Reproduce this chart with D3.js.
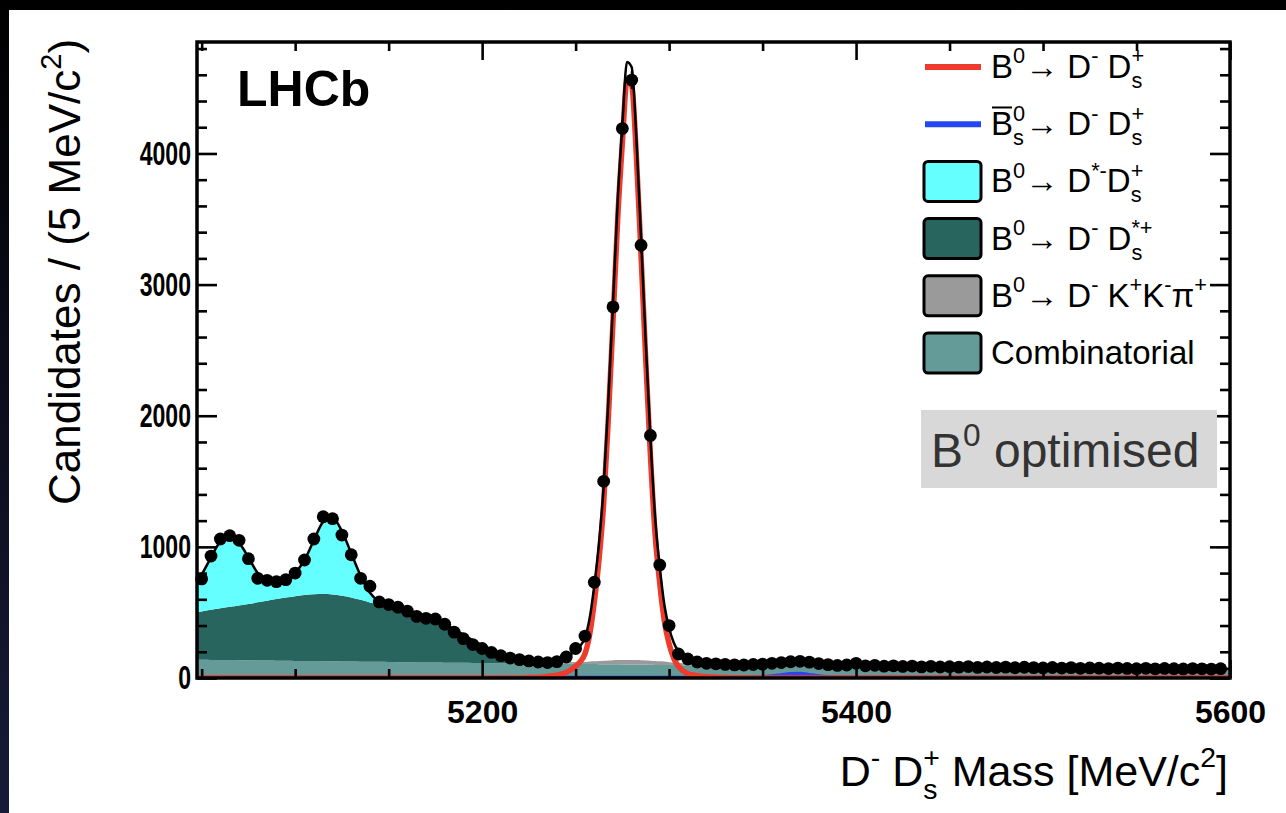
<!DOCTYPE html>
<html>
<head>
<meta charset="utf-8">
<script src="https://cdn.jsdelivr.net/npm/d3@7"></script>
<style>
  html, body { margin: 0; padding: 0; background: #000; }
  svg { display: block; }
  text { font-family: "Liberation Sans", Arial, Helvetica, sans-serif; }
</style>
</head>
<body>
<div id="chart"></div>
<script>
// ---------------- data ----------------
// fit components are sampled on one mass grid (MeV/c^2), finer around the B0 peak
const fitMass = [].concat(
  d3.range(5045, 5251, 5),      // 42 points
  d3.range(5252.5, 5311, 2.5),  // 24 points
  d3.range(5315, 5401, 5),      // 18 points
  d3.range(5410, 5601, 10)      // 20 points
);

const combFit = [
  140,139,138,137,137,136,135,134,133,132,131,130,130,129,128,127,126,125,124,124,123,
  122,121,120,119,119,118,117,116,116,115,114,113,113,112,111,110,110,109,108,108,107,
  107,106,106,106,105,105,104,104,104,103,103,102,102,102,101,101,100,100,100,99,99,99,98,98,
  98,97,97,96,96,95,95,94,94,93,93,92,92,91,91,90,90,89,
  88,87,86,85,84,83,82,81,80,79,78,77,76,75,74,73,72,71,70,70
];
const kkpiFit = [
  0,0,0,0,0,0,0,0,0,0,0,0,0,0,0,0,0,0,0,0,0,
  0,0,0,0,0,0,0,0,0,0,0,0,0,0,0,1,2,4,6,9,12,
  14,16,19,21,24,26,29,31,33,34,35,35,35,34,33,31,29,27,25,22,20,17,15,13,
  11,9,7,6,5,4,3,2,2,1,1,1,0,0,0,0,0,0,
  0,0,0,0,0,0,0,0,0,0,0,0,0,0,0,0,0,0,0,0
];
const dsstarFit = [
  360,369,382,395,406,417,430,443,457,471,483,494,502,509,512,510,502,489,472,452,434,
  418,401,382,363,343,322,293,256,214,173,136,103,75,54,39,26,16,8,4,2,1,
  0,0,0,0,0,0,0,0,0,0,0,0,0,0,0,0,0,0,0,0,0,0,0,0,
  0,0,0,0,0,0,0,0,0,0,0,0,0,0,0,0,0,0,
  0,0,0,0,0,0,0,0,0,0,0,0,0,0,0,0,0,0,0,0
];
const dstarFit = [
  200,282,400,508,532,477,355,223,155,132,136,176,268,412,550,583,492,336,184,74,23,
  8,3,1,0,0,0,0,0,0,0,0,0,0,0,0,0,0,0,0,0,0,
  0,0,0,0,0,0,0,0,0,0,0,0,0,0,0,0,0,0,0,0,0,0,0,0,
  0,0,0,0,0,0,0,0,0,0,0,0,0,0,0,0,0,0,
  0,0,0,0,0,0,0,0,0,0,0,0,0,0,0,0,0,0,0,0
];
const sigFit = [
  0,0,0,0,0,0,0,0,0,0,0,0,0,0,0,0,0,0,0,0,0,
  0,0,0,0,0,0,0,0,0,0,0,0,0,0,0,3,6,12,22,42,90,
  125,185,330,580,900,1330,1980,2720,3500,4080,4560,4520,3980,3220,2430,1700,1100,720,430,260,150,88,54,33,
  18,10,6,3,2,1,0,0,0,0,0,0,0,0,0,0,0,0,
  0,0,0,0,0,0,0,0,0,0,0,0,0,0,0,0,0,0,0,0
];
const bsFit = [
  0,0,0,0,0,0,0,0,0,0,0,0,0,0,0,0,0,0,0,0,0,
  0,0,0,0,0,0,0,0,0,0,0,0,0,0,0,0,0,0,0,0,0,
  0,0,0,0,0,0,0,0,0,0,0,0,0,0,0,0,0,0,0,0,0,0,0,0,
  0,0,0,0,0,1,2,5,11,20,29,30,22,12,5,2,1,0,
  0,0,0,0,0,0,0,0,0,0,0,0,0,0,0,0,0,0,0,0
];

// candidates per 5 MeV bin, bin centres 5050 ... 5595
const dataMass = d3.range(5050, 5600, 5);
const dataCounts = [
  756,930,1060,1085,1050,910,760,745,735,750,
  800,900,1060,1230,1215,1090,940,760,700,580,
  560,540,510,470,455,450,410,350,300,255,
  225,195,170,152,140,130,122,118,125,160,
  225,320,730,1500,2830,4190,4560,3300,1850,862,
  400,183,145,122,112,108,104,100,99,103,
  106,112,118,124,127,121,110,102,96,99,
  112,93,97,90,93,88,91,85,89,84,
  86,83,87,81,84,80,83,78,82,79,
  77,80,76,79,74,77,75,72,76,73,
  71,74,70,73,71,69,72,70,68,71
];

const xMajor = [5200, 5400, 5600];
const yMajor = [0, 1000, 2000, 3000, 4000];

// ---------------- layout ----------------
const W = 1286, H = 813;
const xL = 197, xR = 1230, yT = 42, yB = 678;

const x = d3.scaleLinear().domain([5047.5, 5600]).range([xL, xR]);
const y = d3.scaleLinear().domain([0, 4850]).range([yB, yT]);

const colors = {
  comb: "#649a97",
  kkpi: "#9a9a9a",
  dsstar: "#28655f",
  dstar: "#66ffff",
  sig: "#ee3b2d",
  bs: "#2447f0"
};

const svg = d3.select("#chart")
  .append("svg")
  .attr("width", W)
  .attr("height", H);

const defs = svg.append("defs");
const grad = defs.append("linearGradient")
  .attr("id", "bg").attr("x1", 0).attr("y1", 0).attr("x2", 0).attr("y2", 1);
grad.append("stop").attr("offset", "0%").attr("stop-color", "#000");
grad.append("stop").attr("offset", "100%").attr("stop-color", "#171b38");
defs.append("clipPath").attr("id", "plotclip")
  .append("rect")
  .attr("x", xL).attr("y", yT)
  .attr("width", xR - xL).attr("height", yB - yT);

svg.append("rect").attr("width", W).attr("height", H).attr("fill", "url(#bg)");
svg.append("rect").attr("x", 9).attr("y", 10)
  .attr("width", W - 9).attr("height", H - 10).attr("fill", "#fff");

const plot = svg.append("g").attr("clip-path", "url(#plotclip)");

// stacked backgrounds: combinatorial at the bottom, D*- Ds+ on top
const rows = fitMass.map((m, i) => ({
  m, comb: combFit[i], kkpi: kkpiFit[i], dsstar: dsstarFit[i], dstar: dstarFit[i]
}));
const stacked = d3.stack().keys(["comb", "kkpi", "dsstar", "dstar"])(rows);

const area = d3.area()
  .curve(d3.curveMonotoneX)
  .x(d => x(d.data.m))
  .y0(d => y(d[0]))
  .y1(d => y(d[1]));

plot.selectAll("path.bkg")
  .data(stacked)
  .join("path")
  .attr("class", "bkg")
  .attr("fill", d => colors[d.key])
  .attr("d", area);

const line = d3.line().curve(d3.curveMonotoneX).x(d => x(d[0])).y(d => y(d[1]));

plot.append("path")
  .attr("fill", "none").attr("stroke", colors.bs).attr("stroke-width", 4.5)
  .attr("d", line(fitMass.map((m, i) => [m, bsFit[i]])));

plot.append("path")
  .attr("fill", "none").attr("stroke", colors.sig).attr("stroke-width", 5.5)
  .attr("d", line(fitMass.map((m, i) => [m, sigFit[i]])));

// total fit
const total = fitMass.map((m, i) =>
  [m, combFit[i] + kkpiFit[i] + dsstarFit[i] + dstarFit[i] + sigFit[i] + bsFit[i]]);
plot.append("path")
  .attr("fill", "none").attr("stroke", "#000").attr("stroke-width", 2.5)
  .attr("d", line(total));

// data points with poisson error bars
const pts = svg.append("g");
pts.selectAll("line")
  .data(dataCounts)
  .join("line")
  .attr("x1", (d, i) => x(dataMass[i]))
  .attr("x2", (d, i) => x(dataMass[i]))
  .attr("y1", d => y(d + Math.sqrt(d)))
  .attr("y2", d => y(d - Math.sqrt(d)))
  .attr("stroke", "#000").attr("stroke-width", 2);
pts.selectAll("circle")
  .data(dataCounts)
  .join("circle")
  .attr("cx", (d, i) => x(dataMass[i]))
  .attr("cy", d => y(d))
  .attr("r", 6.4)
  .attr("fill", "#000");

// ---------------- axes / frame ----------------
const xMinor = d3.range(5050, 5601, 50).filter(v => !xMajor.includes(v));
const yMinor = d3.range(200, 4850, 200).filter(v => !yMajor.includes(v));

function styleAxis(g) {
  g.select(".domain").remove();
  g.selectAll("line").attr("stroke", "#000").attr("stroke-width", 2.6);
  g.attr("font-family", null).attr("font-size", null);
}

// y labels in the original are squeezed sideways
const ySqueeze = 0.7;
svg.append("g").attr("transform", `translate(${xL},0)`)
  .call(d3.axisLeft(y).tickValues(yMajor).tickSize(-20).tickPadding(6).tickFormat(d3.format("d")))
  .call(styleAxis)
  .call(g => g.selectAll("text")
    .attr("x", -6 / ySqueeze)
    .attr("transform", `scale(${ySqueeze},1)`)
    .attr("font-weight", "bold").attr("font-size", 33).attr("fill", "#000"));
svg.append("g").attr("transform", `translate(${xL},0)`)
  .call(d3.axisLeft(y).tickValues(yMinor).tickSize(-10).tickFormat(""))
  .call(styleAxis);
svg.append("g").attr("transform", `translate(${xR},0)`)
  .call(d3.axisRight(y).tickValues(yMajor).tickSize(-20).tickFormat(""))
  .call(styleAxis);
svg.append("g").attr("transform", `translate(${xR},0)`)
  .call(d3.axisRight(y).tickValues(yMinor).tickSize(-10).tickFormat(""))
  .call(styleAxis);

svg.append("g").attr("transform", `translate(0,${yB})`)
  .call(d3.axisBottom(x).tickValues(xMajor).tickSize(-18).tickPadding(22).tickFormat(d3.format("d")))
  .call(styleAxis)
  .call(g => g.selectAll("text")
    .attr("font-weight", "bold").attr("font-size", 32).attr("fill", "#000"));
svg.append("g").attr("transform", `translate(0,${yB})`)
  .call(d3.axisBottom(x).tickValues(xMinor).tickSize(-9).tickFormat(""))
  .call(styleAxis);
svg.append("g").attr("transform", `translate(0,${yT})`)
  .call(d3.axisTop(x).tickValues(xMajor).tickSize(-18).tickFormat(""))
  .call(styleAxis);
svg.append("g").attr("transform", `translate(0,${yT})`)
  .call(d3.axisTop(x).tickValues(xMinor).tickSize(-9).tickFormat(""))
  .call(styleAxis);

svg.append("rect")
  .attr("x", xL).attr("y", yT)
  .attr("width", xR - xL).attr("height", yB - yT)
  .attr("fill", "none").attr("stroke", "#000").attr("stroke-width", 3.5);

// ---------------- text with sub/superscripts ----------------
// piece: [text, kind ("sup" | "sub" | "bar" | undefined), hold (next piece shares x)]
function rich(g, x0, y0, pieces, size) {
  let cx = x0, held = 0;
  pieces.forEach(([t, kind, hold]) => {
    const small = kind === "sup" || kind === "sub";
    const fs = small ? size * 0.66 : size;
    const dy = kind === "sup" ? -0.44 * size : kind === "sub" ? 0.3 * size : 0;
    const el = g.append("text")
      .attr("x", cx).attr("y", y0 + dy)
      .attr("font-size", fs)
      .text(t);
    const w = el.node().getComputedTextLength();
    if (kind === "bar") {
      g.append("line")
        .attr("x1", cx + 1).attr("x2", cx + w - 1)
        .attr("y1", y0 - 0.84 * size).attr("y2", y0 - 0.84 * size)
        .attr("stroke", "#000").attr("stroke-width", 2);
    }
    if (hold) held = Math.max(held, w);
    else { cx += Math.max(w, held); held = 0; }
  });
  return cx - x0;
}

const NB = "\u00a0";
const legendItems = [
  { type: "line", color: colors.sig,
    label: [["B"], ["0", "sup"], ["\u2192" + NB], ["D"], ["-", "sup"], [NB + "D"], ["s", "sub", 1], ["+", "sup"]] },
  { type: "line", color: colors.bs,
    label: [["B", "bar"], ["s", "sub", 1], ["0", "sup"], ["\u2192" + NB], ["D"], ["-", "sup"], [NB + "D"], ["s", "sub", 1], ["+", "sup"]] },
  { type: "box", color: colors.dstar,
    label: [["B"], ["0", "sup"], ["\u2192" + NB], ["D"], ["*-", "sup"], ["D"], ["s", "sub", 1], ["+", "sup"]] },
  { type: "box", color: colors.dsstar,
    label: [["B"], ["0", "sup"], ["\u2192" + NB], ["D"], ["-", "sup"], [NB + "D"], ["s", "sub", 1], ["*+", "sup"]] },
  { type: "box", color: colors.kkpi,
    label: [["B"], ["0", "sup"], ["\u2192" + NB], ["D"], ["-", "sup"], [NB + "K"], ["+", "sup"], ["K"], ["-", "sup"], ["\u03c0"], ["+", "sup"]] },
  { type: "box", color: colors.comb,
    label: [["Combinatorial"]] }
];

const legend = svg.append("g");
legendItems.forEach((item, i) => {
  const cy = 67 + i * 57.2;
  if (item.type === "line") {
    legend.append("line")
      .attr("x1", 925).attr("x2", 981).attr("y1", cy).attr("y2", cy)
      .attr("stroke", item.color).attr("stroke-width", 6);
  } else {
    legend.append("rect")
      .attr("x", 924).attr("y", cy - 20).attr("width", 57).attr("height", 40)
      .attr("rx", 4)
      .attr("fill", item.color).attr("stroke", "#000").attr("stroke-width", 3);
  }
  rich(legend.append("g"), 991, cy + 11, item.label, 33);
});

// LHCb tag
svg.append("text")
  .attr("x", 237).attr("y", 106)
  .attr("font-size", 50).attr("font-weight", "bold")
  .text("LHCb");

// axis titles
const ytitle = svg.append("g");
const yw = rich(ytitle, 0, 0, [["Candidates / (5 MeV/c"], ["2", "sup"], [")"]], 44);
ytitle.attr("transform", `translate(80,${272 + yw / 2}) rotate(-90)`);

const xtitle = svg.append("g");
const xw = rich(xtitle, 0, 0,
  [["D"], ["-", "sup"], [NB + "D"], ["s", "sub", 1], ["+", "sup"], [NB + "Mass [MeV/c"], ["2", "sup"], ["]"]], 43);
xtitle.attr("transform", `translate(${1228 - xw},786)`);

// annotation box
svg.append("rect")
  .attr("x", 921).attr("y", 410).attr("width", 296).attr("height", 78)
  .attr("fill", "#d8d8d8");
const note = svg.append("g").attr("fill", "#333").attr("font-weight", 300);
rich(note, 931, 467, [["B"], ["0", "sup"], [NB + "optimised"]], 48);
</script>
</body>
</html>
